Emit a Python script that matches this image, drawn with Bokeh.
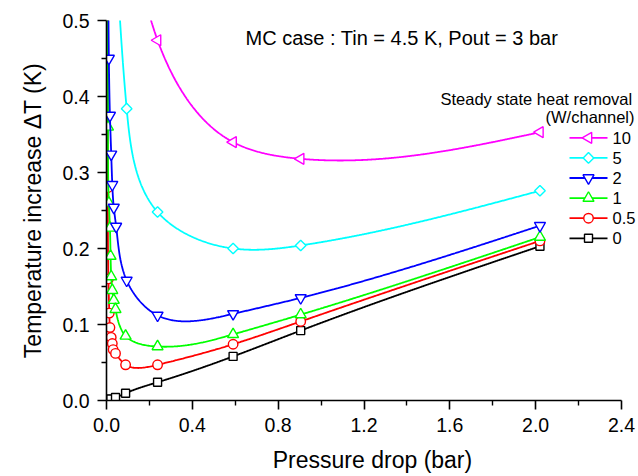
import numpy as np
from bokeh.plotting import figure
from bokeh.models import Range1d, FixedTicker, Label, PrintfTickFormatter
from bokeh.embed import file_html
from bokeh.resources import INLINE

# ---- data ----
x_q0 = [0, 0.005, 0.01, 0.015, 0.02, 0.042, 0.089, 0.238, 0.59, 0.905, 2.02]
y_q0 = [0, 0.0005, 0.001, 0.0015, 0.002, 0.004, 0.0096, 0.024, 0.058, 0.092, 0.203]

x_q05 = [0.003, 0.006, 0.009, 0.013, 0.016, 0.022, 0.027, 0.031, 0.042, 0.089, 0.238, 0.59, 0.905, 2.02]
y_q05 = [0.62, 0.28, 0.16, 0.115, 0.096, 0.083, 0.075, 0.067, 0.062, 0.047, 0.047, 0.074, 0.104, 0.21]

x_q1 = [0.003, 0.007, 0.011, 0.016, 0.019, 0.022, 0.027, 0.034, 0.042, 0.089, 0.238, 0.59, 0.905, 2.02]
y_q1 = [0.65, 0.36, 0.26, 0.227, 0.19, 0.163, 0.145, 0.132, 0.12, 0.085, 0.071, 0.087, 0.113, 0.215]

x_q2 = [0.007, 0.011, 0.016, 0.022, 0.027, 0.034, 0.045, 0.094, 0.238, 0.59, 0.905, 2.02]
y_q2 = [0.62, 0.45, 0.375, 0.324, 0.284, 0.254, 0.229, 0.158, 0.112, 0.114, 0.135, 0.23]

x_q5 = [0.04, 0.094, 0.238, 0.59, 0.905, 2.02]
y_q5 = [0.62, 0.384, 0.248, 0.2, 0.204, 0.276]

x_q10 = [0.12, 0.238, 0.59, 0.905, 2.02]
y_q10 = [0.75, 0.474, 0.34, 0.318, 0.353]

labels = ["10", "5", "2", "1", "0.5", "0"]
x_ticks = [0.0, 0.4, 0.8, 1.2, 1.6, 2.0, 2.4]
y_ticks = [0.0, 0.1, 0.2, 0.3, 0.4, 0.5]


def natural_spline(t, f, tt):
    n = len(t)
    h = np.diff(t)
    A = np.zeros((n, n))
    b = np.zeros(n)
    A[0, 0] = 1
    A[-1, -1] = 1
    for i in range(1, n - 1):
        A[i, i - 1] = h[i - 1]
        A[i, i] = 2 * (h[i - 1] + h[i])
        A[i, i + 1] = h[i]
        b[i] = 6 * ((f[i + 1] - f[i]) / h[i] - (f[i] - f[i - 1]) / h[i - 1])
    M = np.linalg.solve(A, b)
    out = np.empty_like(tt)
    idx = np.clip(np.searchsorted(t, tt) - 1, 0, n - 2)
    for k, (s, i) in enumerate(zip(tt, idx)):
        hi = h[i]
        a = (t[i + 1] - s) / hi
        c = (s - t[i]) / hi
        out[k] = (a * f[i] + c * f[i + 1]
                  + ((a ** 3 - a) * M[i] + (c ** 3 - c) * M[i + 1]) * hi * hi / 6)
    return out


def smooth(xs, ys):
    # parametric spline in screen-like coordinates (drawing of the connecting line)
    X = np.asarray(xs, float) / 2.4 * 515
    Y = np.asarray(ys, float) / 0.5 * 380
    d = np.hypot(np.diff(X), np.diff(Y))
    t = np.concatenate([[0], np.cumsum(d)])
    tt = np.linspace(0, t[-1], 800)
    sx = natural_spline(t, X, tt) * 2.4 / 515
    sy = natural_spline(t, Y, tt) * 0.5 / 380
    return sx, sy


W, H = 638, 476
BL, BR, BT, BB = 106, 0, 20, 76
FW, FH = W - BL - BR, H - BT - BB
AXIS_PX = 515                      # pixel length of the 0..2.4 axis
X_END = 2.4 * FW / AXIS_PX          # frame runs past 2.4 so texts are not clipped

p = figure(width=W, height=H, x_range=Range1d(0, X_END), y_range=Range1d(0, 0.5),
           output_backend="svg", toolbar_location=None,
           min_border_left=BL, min_border_right=BR, min_border_top=BT,
           min_border_bottom=BB)
p.outline_line_color = None
p.grid.visible = False
p.background_fill_color = "white"
p.border_fill_color = "white"
p.extra_x_ranges = {"px": Range1d(0, FW)}
p.extra_y_ranges = {"px": Range1d(0, FH)}

FONT = "Liberation Sans"

series = [
    (x_q10, y_q10, "#FF00FF", "triangle", np.pi / 2, 11),
    (x_q5, y_q5, "#00FFFF", "square", np.pi / 4, 7.5),
    (x_q2, y_q2, "#0000FF", "inverted_triangle", 0, 11),
    (x_q1, y_q1, "#00FF00", "triangle", 0, 11),
    (x_q05, y_q05, "#FF0000", "circle", 0, 9.5),
    (x_q0, y_q0, "#000000", "square", 0, 8),
]

for xs, ys, col, mk, ang, size in series[::-1]:
    sx, sy = smooth(xs, ys)
    p.line(sx, sy, line_color=col, line_width=1.8)
    p.scatter(xs, ys, marker=mk, size=size, angle=ang, line_color=col,
              fill_color="white", line_width=1.4)

# ---- legend (drawn in frame pixel space) ----
LEG_X0, LEG_X1 = 569 - BL, 607 - BL
row_y = [(H - BB) - (137.3 + 20.1 * i) for i in range(len(labels))]
for (xs, ys, col, mk, ang, size), lab, ry in zip(series, labels, row_y):
    p.segment(x0=[LEG_X0], x1=[LEG_X1], y0=[ry], y1=[ry], line_color=col, line_width=1.8,
              x_range_name="px", y_range_name="px")
    p.scatter(x=[(LEG_X0 + LEG_X1) / 2], y=[ry], marker=mk, size=size, angle=ang,
              line_color=col, fill_color="white", line_width=1.4,
              x_range_name="px", y_range_name="px")
    p.add_layout(Label(x=LEG_X1 + 5, y=ry, x_units="screen", y_units="screen", text=lab,
                       text_font=FONT, text_font_size="16.5px", text_color="black",
                       text_baseline="middle", text_align="left"))

for ax in (p.xaxis[0], p.yaxis[0]):
    ax.axis_line_width = 1.6
    ax.axis_line_color = "black"
    ax.major_tick_line_width = 1.6
    ax.minor_tick_line_width = 1.4
    ax.major_tick_out = 9
    ax.major_tick_in = 0
    ax.minor_tick_out = 5
    ax.minor_tick_in = 0
    ax.major_label_text_font = FONT
    ax.major_label_text_font_size = "19.5px"
    ax.major_label_text_color = "black"
    ax.formatter = PrintfTickFormatter(format="%.1f")
    ax.axis_label_text_font = FONT
    ax.axis_label_text_font_size = "23px"
    ax.axis_label_text_font_style = "normal"
    ax.axis_label_text_color = "black"

p.xaxis.bounds = (0, 2.4)
p.xaxis.ticker = FixedTicker(ticks=x_ticks, minor_ticks=[0.2, 0.6, 1.0, 1.4, 1.8, 2.2])
p.yaxis.ticker = FixedTicker(ticks=y_ticks, minor_ticks=[0.05, 0.15, 0.25, 0.35, 0.45])
p.xaxis.major_label_standoff = 8
p.yaxis.major_label_standoff = 8

p.yaxis.axis_label = "Temperature increase \u0394T (K)"
p.yaxis.axis_label_standoff = 13
p.xaxis.axis_label = "Pressure drop (bar)"
p.xaxis.axis_label_standoff = 12

p.add_layout(Label(x=245 - BL, y=(H - BB) - 37.3, x_units="screen", y_units="screen",
                   text="MC case : Tin = 4.5 K, Pout = 3 bar", text_font=FONT, text_color="black",
                   text_font_size="20px", text_baseline="alphabetic", text_align="left"))
p.add_layout(Label(x=440 - BL, y=(H - BB) - 98.3, x_units="screen", y_units="screen",
                   text="Steady state heat removal", text_font=FONT, text_color="black",
                   text_font_size="16.5px", text_baseline="alphabetic", text_align="left"))
p.add_layout(Label(x=634 - BL, y=(H - BB) - 116.7, x_units="screen", y_units="screen",
                   text="(W/channel)", text_font=FONT, text_color="black",
                   text_font_size="16.5px", text_baseline="alphabetic", text_align="right"))

open("out.html", "w").write(file_html(p, INLINE))
